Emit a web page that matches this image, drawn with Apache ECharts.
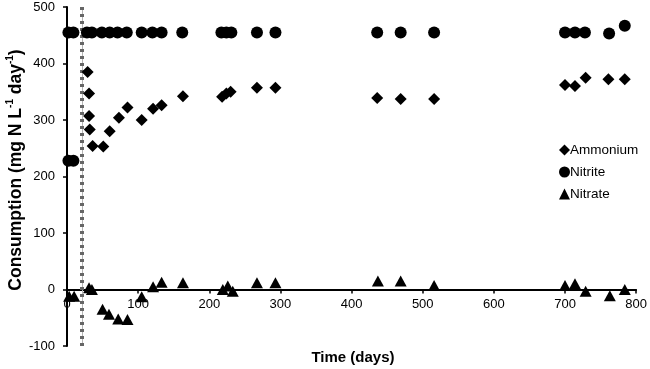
<!DOCTYPE html>
<html>
<head>
<meta charset="utf-8">
<script src="https://cdn.jsdelivr.net/npm/echarts@6/dist/echarts.min.js"></script>
<style>
  html, body { margin: 0; padding: 0; background: #fff; }
  #chart { width: 650px; height: 369px; }
</style>
</head>
<body>
<div id="chart"></div>
<script>
// values (days, mg N L-1 day-1)
const ammoniumDays = [29, 31, 31, 32, 36, 51, 60, 73, 85, 105, 121, 133, 163, 218, 224, 230, 267, 293, 436, 469, 516, 700, 714, 729, 761, 784];
const ammoniumVals = [385, 347, 307, 283, 254, 253, 280, 304, 322, 300, 320, 326, 342, 341, 347, 350, 357, 357, 339, 337, 337, 362, 360, 375, 372, 372];

const nitriteDays = [2, 9, 2, 9, 28, 35, 49, 60, 71, 84, 105, 120, 133, 162, 217, 224, 231, 267, 293, 436, 469, 516, 700, 714, 728, 762, 784];
const nitriteVals = [228, 228, 455, 455, 455, 455, 455, 455, 455, 455, 455, 455, 455, 455, 455, 455, 455, 455, 455, 455, 455, 455, 455, 455, 455, 453, 467];

const nitrateDays = [3, 10, 31, 35, 50, 59, 72, 85, 105, 121, 133, 163, 219, 226, 233, 267, 293, 437, 469, 516, 700, 714, 729, 763, 784];
const nitrateVals = [-12, -12, 3, 0, -35, -44, -52, -53, -13, 5, 13, 12, 0, 6, -3, 12, 12, 15, 15, 7, 7, 10, -3, -11, 0];

const startupDay = 21;  // dashed vertical line

const pairs = (xs, ys) => xs.map((x, i) => [x, ys[i]]);

const font = 'Liberation Sans, Arial, sans-serif';

// plot area
const gridTop = 7, gridBottom = 23, chartH = 369;
const plotH = chartH - gridTop - gridBottom;
const zeroOffset = -plotH * 100 / 600;  // lift x axis onto y = 0

let option = {
    animation: false,
    backgroundColor: '#fff',
    textStyle: { fontFamily: font },
    grid: {
        left: 67,
        right: 12,
        top: gridTop,
        bottom: gridBottom
    },
    legend: {
        orient: 'vertical',
        left: 554,
        top: 138,
        itemWidth: 11,
        itemHeight: 11,
        itemGap: 8,
        textStyle: { color: '#000', fontSize: 13.5, fontFamily: font, padding: [0, 0, 0, -5] },
        data: ['Ammonium', 'Nitrite', 'Nitrate']
    },
    xAxis: {
        type: 'value',
        min: 0,
        max: 800,
        interval: 100,
        offset: zeroOffset,
        splitLine: { show: false },
        axisLine: { onZero: false, lineStyle: { color: '#000', width: 2 } },
        axisTick: { show: true, length: 4, lineStyle: { color: '#000', width: 1.5 } },
        axisLabel: { color: '#000', fontSize: 13, margin: 8 }
    },
    yAxis: {
        type: 'value',
        min: -100,
        max: 500,
        interval: 100,
        splitLine: { show: false },
        axisLine: { show: true, onZero: false, lineStyle: { color: '#000', width: 2 } },
        axisTick: { show: true, length: 4, lineStyle: { color: '#000', width: 1.5 } },
        axisLabel: { color: '#000', fontSize: 13, margin: 12 }
    },
    graphic: [
        {
            type: 'text',
            x: 353,
            y: 358,
            style: {
                text: 'Time (days)',
                font: 'bold 15px ' + font,
                fill: '#000',
                textAlign: 'center',
                textVerticalAlign: 'middle'
            }
        },
        {
            type: 'text',
            x: 15,
            y: 170,
            rotation: Math.PI / 2,
            style: {
                text: '{n|Consumption (mg N L}{s|-1}{n| day}{s|-1}{n|)}',
                textAlign: 'center',
                textVerticalAlign: 'middle',
                fill: '#000',
                rich: {
                    n: { font: 'bold 17.5px ' + font, fill: '#000', verticalAlign: 'bottom', lineHeight: 20 },
                    s: { font: 'bold 10px ' + font, fill: '#000', verticalAlign: 'top', lineHeight: 20, padding: [0, 0, 8, 0] }
                }
            }
        }
    ],
    series: [
        {
            name: 'Ammonium',
            type: 'scatter',
            symbol: 'diamond',
            symbolSize: 12,
            itemStyle: { color: '#000', opacity: 1 },
            data: pairs(ammoniumDays, ammoniumVals),
            z: 3
        },
        {
            name: 'Nitrite',
            type: 'scatter',
            symbol: 'circle',
            symbolSize: 12,
            itemStyle: { color: '#000', opacity: 1 },
            data: pairs(nitriteDays, nitriteVals),
            z: 3,
            markLine: {
                silent: true,
                symbol: 'none',
                label: { show: false },
                lineStyle: { color: '#b5b5b5', width: 1, type: 'solid' },
                data: [{ xAxis: startupDay }],
                z: 1
            }
        },
        {
            name: 'Nitrate',
            type: 'scatter',
            symbol: 'triangle',
            symbolSize: [12, 11],
            itemStyle: { color: '#000', opacity: 1 },
            data: pairs(nitrateDays, nitrateVals),
            z: 3,
            markLine: {
                silent: true,
                symbol: 'none',
                label: { show: false },
                lineStyle: { color: '#666', width: 4, type: [3, 4] },
                data: [{ xAxis: startupDay }],
                z: 2
            }
        }
    ]
};

let chart = echarts.init(document.getElementById('chart'));
chart.setOption(option);
</script>
</body>
</html>
